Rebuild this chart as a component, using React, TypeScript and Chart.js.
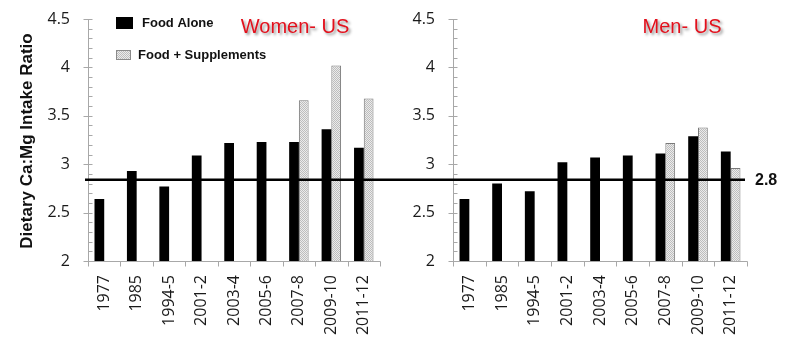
import React, { useEffect, useRef } from "react";
import { Chart, registerables } from "chart.js";

Chart.register(...registerables);

// ---------- data ----------
const categories = ["1977", "1985", "1994-5", "2001-2", "2003-4", "2005-6", "2007-8", "2009-10", "2011-12"];
const seriesLabels = ["Food Alone", "Food + Supplements"];
const womenFoodAlone = [2.64, 2.93, 2.77, 3.09, 3.22, 3.23, 3.23, 3.36, 3.17];
const womenFoodSupp = [null, null, null, null, null, null, 3.66, 4.02, 3.68];
const menFoodAlone = [2.64, 2.8, 2.72, 3.02, 3.07, 3.09, 3.11, 3.29, 3.13];
const menFoodSupp = [null, null, null, null, null, null, 3.22, 3.38, 2.96];
const panelTitles = ["Women- US", "Men- US"];
const yAxisTitle = "Dietary Ca:Mg Intake Ratio";
const refValue = 2.84;
const refLabel = "2.8";
const yMin = 2;
const yMax = 4.5;
const yStep = 0.5;
const yMinorStep = 0.1;

const AXIS_GRAY = "#a8a8a8";
const TICK_FONT = { family: "'Open Sans', sans-serif", size: 16 };

function makePattern(): CanvasPattern | string {
  const pc = document.createElement("canvas");
  pc.width = 2;
  pc.height = 2;
  const g = pc.getContext("2d");
  if (!g) return "#d6d6d6";
  g.fillStyle = "#ebebeb";
  g.fillRect(0, 0, 2, 2);
  g.fillStyle = "#bdbdbd";
  g.fillRect(0, 0, 1, 1);
  g.fillRect(1, 1, 1, 1);
  const p = g.createPattern(pc, "repeat");
  return p || "#d6d6d6";
}

type PanelOpts = {
  isLeft: boolean;
  foodAlone: (number | null)[];
  foodSupp: (number | null)[];
  title: string;
  titleFrac: number;
  yWidth: number;
  padRight: number;
};

function makeDecor(o: PanelOpts) {
  return {
    id: "decor" + (o.isLeft ? "L" : "R"),
    afterDatasetsDraw(chart: any) {
      const ctx: CanvasRenderingContext2D = chart.ctx;
      const ca = chart.chartArea;
      const ys = chart.scales.y;
      ctx.save();
      // axes
      ctx.strokeStyle = AXIS_GRAY;
      ctx.lineWidth = 1;
      const ax = Math.round(ca.left) + 0.5;
      const ay = Math.round(ca.bottom) + 0.5;
      ctx.beginPath();
      ctx.moveTo(ax, Math.round(ca.top));
      ctx.lineTo(ax, ay);
      ctx.lineTo(Math.round(ca.right) + 0.5, ay);
      ctx.stroke();
      // y ticks (major + minor)
      const nMinor = Math.round((yMax - yMin) / yMinorStep);
      const per = Math.round(yStep / yMinorStep);
      ctx.beginPath();
      for (let i = 0; i <= nMinor; i++) {
        const v = yMin + i * yMinorStep;
        const py = Math.round(ys.getPixelForValue(v)) + 0.5;
        const major = i % per === 0;
        ctx.moveTo(major ? ax - 5 : ax, py);
        ctx.lineTo(ax + 4, py);
      }
      // x ticks at category boundaries
      const n = categories.length;
      for (let i = 0; i <= n; i++) {
        const px = Math.round(ca.left + (i * ca.width) / n) + 0.5;
        ctx.moveTo(px, ay);
        ctx.lineTo(px, ay + 5);
      }
      ctx.stroke();

      // reference line
      const ry = ys.getPixelForValue(refValue);
      ctx.strokeStyle = "#000";
      ctx.lineWidth = 2.5;
      ctx.beginPath();
      if (o.isLeft) {
        ctx.moveTo(ca.left - 3, ry);
        ctx.lineTo(chart.width, ry);
      } else {
        ctx.moveTo(0, ry);
        ctx.lineTo(ca.right - 2, ry);
      }
      ctx.stroke();
      if (!o.isLeft) {
        ctx.fillStyle = "#111";
        ctx.font = "bold 16px 'Liberation Sans', Arial, sans-serif";
        ctx.textAlign = "left";
        ctx.textBaseline = "middle";
        ctx.fillText(refLabel, ca.right + 8, ry + 1);
      }

      // panel title
      ctx.save();
      ctx.font = "20px 'Liberation Sans', Arial, sans-serif";
      ctx.textAlign = "center";
      ctx.textBaseline = "alphabetic";
      ctx.shadowColor = "rgba(0,0,0,0.45)";
      ctx.shadowOffsetX = 2;
      ctx.shadowOffsetY = 2;
      ctx.shadowBlur = 3;
      ctx.fillStyle = "#e3101c";
      ctx.fillText(o.title, ca.left + ca.width * o.titleFrac, 33);
      ctx.restore();

      if (o.isLeft) {
        // y axis title
        ctx.save();
        ctx.translate(27, (ca.top + ca.bottom) / 2 + 1);
        ctx.rotate(-Math.PI / 2);
        ctx.font = "bold 17px 'Liberation Sans', Arial, sans-serif";
        ctx.fillStyle = "#111";
        ctx.textAlign = "center";
        ctx.textBaseline = "middle";
        ctx.fillText(yAxisTitle, 0, 0);
        ctx.restore();

        // legend
        const ds = chart.data.datasets;
        ctx.font = "bold 13px 'Liberation Sans', Arial, sans-serif";
        ctx.textAlign = "left";
        ctx.textBaseline = "middle";
        ctx.fillStyle = ds[0].backgroundColor;
        ctx.fillRect(116, 17, 17, 12);
        ctx.fillStyle = "#111";
        ctx.fillText(ds[0].label, 142, 23);
        ctx.fillStyle = ds[1].backgroundColor;
        ctx.fillRect(116, 50, 15, 10);
        ctx.strokeStyle = "#8a8a8a";
        ctx.lineWidth = 1;
        ctx.strokeRect(116.5, 50.5, 14, 9);
        ctx.fillStyle = "#111";
        ctx.fillText(ds[1].label, 138, 55);
      }
      ctx.restore();
    },
  };
}

function buildConfig(o: PanelOpts, pattern: CanvasPattern | string): any {
  return {
    type: "bar",
    data: {
      labels: categories,
      datasets: [
        {
          label: seriesLabels[0],
          data: o.foodAlone,
          backgroundColor: "#000000",
          borderWidth: 0,
          categoryPercentage: 0.6,
          barPercentage: 1.0,
        },
        {
          label: seriesLabels[1],
          data: o.foodSupp,
          backgroundColor: pattern,
          borderColor: "#7a7a7a",
          borderWidth: 1,
          categoryPercentage: 0.6,
          barPercentage: 1.0,
        },
      ],
    },
    options: {
      responsive: false,
      animation: false,
      layout: { autoPadding: false, padding: { top: 19, right: o.padRight, left: 0, bottom: 0 } },
      plugins: {
        legend: { display: false },
        title: { display: false },
        tooltip: { enabled: false },
      },
      scales: {
        x: {
          grid: { display: false, drawTicks: true, tickLength: 14 },
          border: { display: false },
          ticks: {
            autoSkip: false,
            minRotation: 90,
            maxRotation: 90,
            padding: 0,
            color: "#1a1a1a",
            font: TICK_FONT,
          },
          afterFit: (s: any) => {
            s.height = 99;
          },
        },
        y: {
          min: yMin,
          max: yMax,
          grid: { display: false, drawTicks: true, tickLength: 18 },
          border: { display: false },
          ticks: {
            stepSize: yStep,
            padding: 0,
            color: "#1a1a1a",
            font: TICK_FONT,
            callback: (v: any) => String(Number(v)),
          },
          afterFit: (s: any) => {
            s.width = o.yWidth;
          },
        },
      },
    },
    plugins: [makeDecor(o)],
  };
}

export default function App() {
  const leftRef = useRef<HTMLCanvasElement | null>(null);
  const rightRef = useRef<HTMLCanvasElement | null>(null);

  useEffect(() => {
    const pattern = makePattern();
    const charts: Chart[] = [];
    if (leftRef.current) {
      charts.push(
        new Chart(
          leftRef.current,
          buildConfig(
            {
              isLeft: true,
              foodAlone: womenFoodAlone,
              foodSupp: womenFoodSupp,
              title: panelTitles[0],
              titleFrac: 0.709,
              yWidth: 88,
              padRight: 20,
            },
            pattern
          )
        )
      );
    }
    if (rightRef.current) {
      charts.push(
        new Chart(
          rightRef.current,
          buildConfig(
            {
              isLeft: false,
              foodAlone: menFoodAlone,
              foodSupp: menFoodSupp,
              title: panelTitles[1],
              titleFrac: 0.779,
              yWidth: 53,
              padRight: 44,
            },
            pattern
          )
        )
      );
    }
    return () => charts.forEach((c) => c.destroy());
  }, []);

  return (
    <div
      style={{
        position: "absolute",
        left: 0,
        top: 0,
        width: 791,
        height: 360,
        background: "#ffffff",
        overflow: "hidden",
      }}
    >
      <canvas
        ref={leftRef}
        width={400}
        height={360}
        style={{ position: "absolute", left: 0, top: 0, width: 400, height: 360 }}
      />
      <canvas
        ref={rightRef}
        width={391}
        height={360}
        style={{ position: "absolute", left: 400, top: 0, width: 391, height: 360 }}
      />
    </div>
  );
}
